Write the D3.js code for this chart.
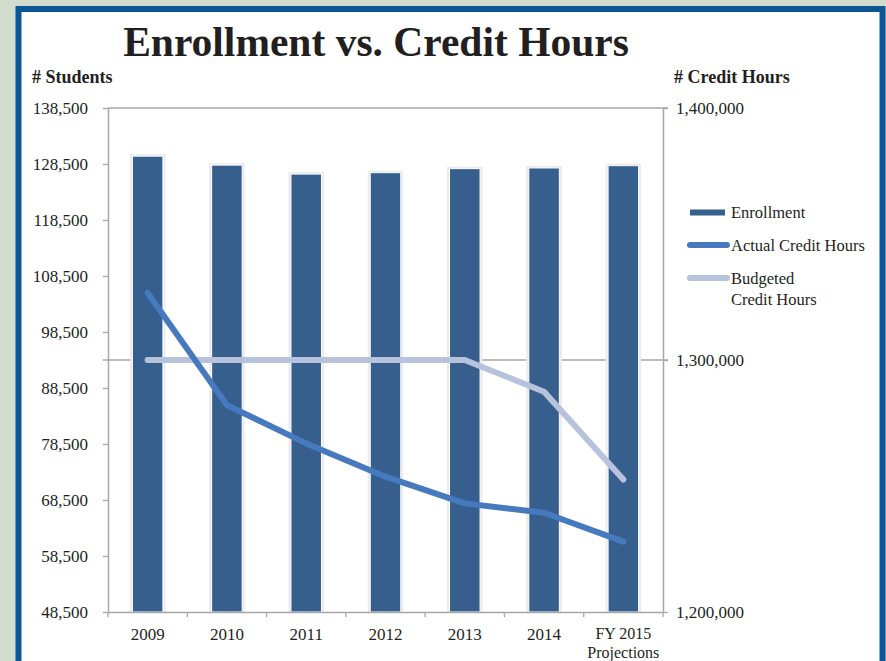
<!DOCTYPE html>
<html><head><meta charset="utf-8">
<script src="https://cdn.jsdelivr.net/npm/d3@7"></script>
<style>body{margin:0;background:#d1dccd;}svg{display:block;}</style>
</head><body>
<script>
const categories = ["2009","2010","2011","2012","2013","2014","FY 2015\nProjections"];
const enrollment = [129900, 128300, 126700, 126950, 127670, 127790, 128200];
const actualHours = [1326600, 1282100, 1266900, 1253700, 1243100, 1239400, 1227900];
const budgetedHours = [1300000, 1300000, 1300000, 1300000, 1300000, 1287400, 1252600];
const leftTicks = [48500, 58500, 68500, 78500, 88500, 98500, 108500, 118500, 128500, 138500];
const rightTicks = [1200000, 1300000, 1400000];

const W = 886, H = 661;
const svg = d3.select("body").append("svg").attr("width", W).attr("height", H);
svg.append("rect").attr("width", W).attr("height", H).attr("fill", "#d1dccd");
svg.append("rect").attr("x", 18.5).attr("y", 9).attr("width", 864).attr("height", 700)
  .attr("fill", "#fff").attr("stroke", "#0c5597").attr("stroke-width", 6);

const serif = "'Liberation Serif','DejaVu Serif',serif";
const L = 108, R = 663, T = 108, B = 612;
const x = d3.scaleBand().domain(categories).range([L, R]).paddingInner(0.615).paddingOuter(0.3075);
const yL = d3.scaleLinear().domain([48500, 138500]).range([B, T]);
const yR = d3.scaleLinear().domain([1200000, 1400000]).range([B, T]);
const cx = c => x(c) + x.bandwidth() / 2;

// title
svg.append("text").attr("x", 376).attr("y", 56).attr("text-anchor", "middle")
  .attr("font-family", serif).attr("font-weight", "bold").attr("font-size", 41.5).attr("fill", "#231f20")
  .text("Enrollment vs. Credit Hours");
svg.append("text").attr("x", 32).attr("y", 83).attr("font-family", serif).attr("font-weight", "bold")
  .attr("font-size", 18).attr("fill", "#231f20").text("# Students");
svg.append("text").attr("x", 674).attr("y", 83).attr("font-family", serif).attr("font-weight", "bold")
  .attr("font-size", 18).attr("fill", "#231f20").text("# Credit Hours");

// mid gridline (right axis 1,300,000) and top line
svg.append("line").attr("x1", L - 5).attr("x2", R + 5).attr("y1", yR(1300000)).attr("y2", yR(1300000))
  .attr("stroke", "#a6a6a6").attr("stroke-width", 1.3);
svg.append("line").attr("x1", L).attr("x2", R + 5).attr("y1", T).attr("y2", T)
  .attr("stroke", "#a6a6a6").attr("stroke-width", 1.3);

// bars
const bars = svg.append("g");
bars.selectAll("rect.sh").data(categories).join("rect")
  .attr("x", c => x(c) - 2.5).attr("width", x.bandwidth() + 5)
  .attr("y", (c, i) => yL(enrollment[i]) - 2).attr("height", (c, i) => B - yL(enrollment[i]) + 2)
  .attr("fill", "#ebebeb");
bars.selectAll("rect.bar").data(categories).join("rect")
  .attr("x", c => x(c)).attr("width", x.bandwidth())
  .attr("y", (c, i) => yL(enrollment[i])).attr("height", (c, i) => B - yL(enrollment[i]))
  .attr("fill", "#365f8e").attr("stroke", "#fff").attr("stroke-width", 1);

// axes
const axisStyle = g => {
  g.select(".domain").attr("stroke", "#a6a6a6").attr("stroke-width", 1.5);
  g.selectAll(".tick line").attr("stroke", "#a6a6a6").attr("stroke-width", 1.3);
  g.selectAll("text").attr("font-family", serif).attr("font-size", 17).attr("fill", "#231f20");
};
svg.append("g").attr("transform", `translate(${L},0)`)
  .call(d3.axisLeft(yL).tickValues(leftTicks).tickSize(5).tickPadding(15).tickSizeOuter(0).tickFormat(d3.format(",")))
  .call(axisStyle);
svg.append("g").attr("transform", `translate(${R},0)`)
  .call(d3.axisRight(yR).tickValues(rightTicks).tickSize(5).tickPadding(8).tickSizeOuter(0).tickFormat(d3.format(",")))
  .call(axisStyle);
const gx = svg.append("g").attr("transform", `translate(0,${B})`)
  .call(d3.axisBottom(x).tickSize(0).tickSizeOuter(0).tickFormat(""))
  .call(axisStyle);
// category boundary ticks
const bounds = d3.range(categories.length + 1).map(i => L + i * x.step());
gx.selectAll("line.bt").data(bounds).join("line").attr("x1", d => d).attr("x2", d => d)
  .attr("y1", 0).attr("y2", 5).attr("stroke", "#a6a6a6").attr("stroke-width", 1.3);
const lbl = svg.append("g");
categories.forEach(c => {
  const parts = c.split("\n");
  const multi = parts.length > 1;
  const t = lbl.append("text").attr("x", cx(c)).attr("y", multi ? 639 : 640).attr("text-anchor", "middle")
    .attr("font-family", serif).attr("font-size", multi ? 16 : 17).attr("fill", "#231f20");
  parts.forEach((p, k) => t.append("tspan").attr("x", cx(c)).attr("dy", k ? 18.5 : 0).text(p));
});

// lines
const lineR = d3.line().x((d, i) => cx(categories[i])).y(d => yR(d));
svg.append("path").datum(budgetedHours).attr("d", lineR).attr("fill", "none")
  .attr("stroke", "#b7c3dc").attr("stroke-width", 6).attr("stroke-linecap", "round").attr("stroke-linejoin", "round");
svg.append("path").datum(actualHours).attr("d", lineR).attr("fill", "none")
  .attr("stroke", "#4679be").attr("stroke-width", 6).attr("stroke-linecap", "round").attr("stroke-linejoin", "round");

// legend
const lg = svg.append("g").attr("font-family", serif).attr("font-size", 16.5).attr("fill", "#231f20");
lg.append("rect").attr("x", 690).attr("y", 209.5).attr("width", 35).attr("height", 6).attr("fill", "#365f8e");
lg.append("text").attr("x", 731).attr("y", 218).text("Enrollment");
lg.append("line").attr("x1", 690).attr("x2", 727).attr("y1", 245).attr("y2", 245)
  .attr("stroke", "#4679be").attr("stroke-width", 6).attr("stroke-linecap", "round");
lg.append("text").attr("x", 731).attr("y", 251).text("Actual Credit Hours");
lg.append("line").attr("x1", 690).attr("x2", 727).attr("y1", 278).attr("y2", 278)
  .attr("stroke", "#b7c3dc").attr("stroke-width", 6).attr("stroke-linecap", "round");
lg.append("text").attr("x", 731).attr("y", 284).text("Budgeted");
lg.append("text").attr("x", 731).attr("y", 305).text("Credit Hours");
</script>
</body></html>
